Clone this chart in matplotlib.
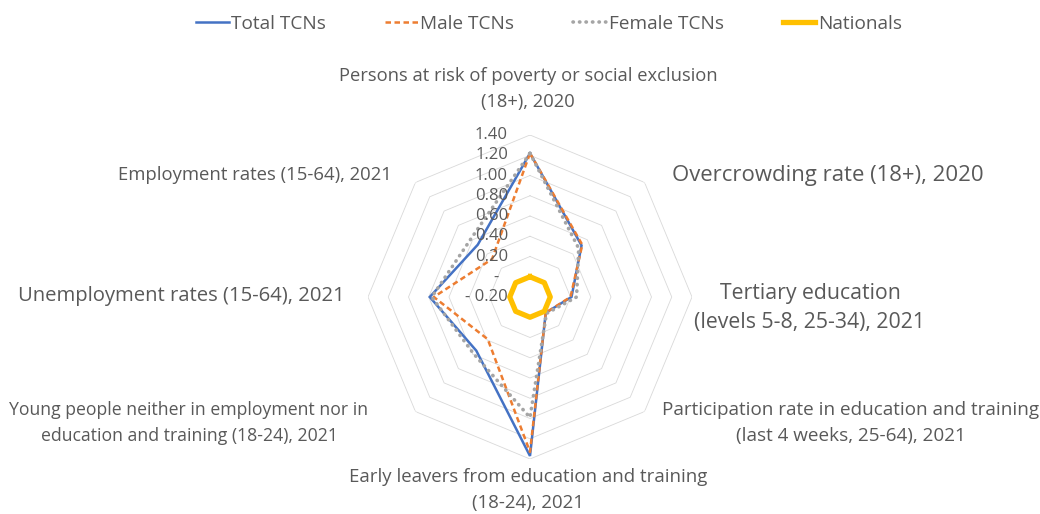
import numpy as np
import matplotlib.pyplot as plt
import matplotlib.transforms as mtransforms
from matplotlib.lines import Line2D

# Datos (en el orden del gráfico, en sentido horario desde arriba)
categorias = [
    "Persons at risk of poverty or social exclusion\n(18+), 2020",
    "Overcrowding rate (18+), 2020",
    "Tertiary education\n(levels 5-8, 25-34), 2021",
    "Participation rate in education and training\n(last 4 weeks, 25-64), 2021",
    "Early leavers from education and training\n(18-24), 2021",
    "Young people neither in employment nor in\neducation and training (18-24), 2021",
    "Unemployment rates (15-64), 2021",
    "Employment rates (15-64), 2021",
]
total_tcns = [1.22, 0.52, 0.21, 0.02, 1.37, 0.55, 0.79, 0.53]
male_tcns = [1.22, 0.53, 0.20, 0.02, 1.33, 0.39, 0.75, 0.33]
female_tcns = [1.22, 0.48, 0.26, 0.03, 0.99, 0.59, 0.77, 0.62]
nationals = [0, 0, 0, 0, 0, 0, 0, 0]

anillos = [0.0, 0.2, 0.4, 0.6, 0.8, 1.0, 1.2, 1.4]
etiquetas_r = ["- 0.20", "-  ", "0.20", "0.40", "0.60", "0.80", "1.00", "1.20", "1.40"]
valores_r = [-0.2] + anillos

plt.rcParams['font.family'] = ['Open Sans', 'DejaVu Sans']
gris_texto = '#595959'

fig = plt.figure(figsize=(10.4, 5.14), dpi=100)
W, H = 1040, 514
cx, cy, R = 530, 297, 162
ax = fig.add_axes([(cx - R) / W, (H - cy - R) / H, 2 * R / W, 2 * R / H], projection='polar')
ax.set_theta_offset(np.pi / 2)
ax.set_theta_direction(-1)
ax.set_ylim(-0.2, 1.4)
ax.grid(False)
ax.spines['polar'].set_visible(False)
ax.set_xticks([])
ax.set_yticks([])
ax.patch.set_alpha(0)

n = len(categorias)
ang = np.linspace(0, 2 * np.pi, n, endpoint=False)
ang_c = np.append(ang, ang[0])

def cerrar(v):
    return np.append(v, v[0])

# rejilla octogonal
for a in anillos:
    ax.plot(ang_c, [a] * (n + 1), color='#D9D9D9', lw=0.6, zorder=1)

# series
ax.plot(ang_c, cerrar(total_tcns), color='#4472C4', lw=1.8, zorder=3,
        solid_joinstyle='miter')
ax.plot(ang_c, cerrar(male_tcns), color='#ED7D31', lw=1.8, zorder=3,
        linestyle=(0, (2.2, 1.4)))
ax.plot(ang_c, cerrar(female_tcns), color='#A5A5A5', lw=2.6, zorder=3,
        linestyle=(0, (0.1, 1.7)), dash_capstyle='round')
ax.plot(ang_c, cerrar(nationals), color='#FFC000', lw=3.8, zorder=4)

# etiquetas del eje radial
trans = mtransforms.offset_copy(ax.transData, fig=fig, x=-22, y=0, units='dots')
for v, t in zip(valores_r, etiquetas_r):
    ax.text(0, v, t, transform=trans, ha='right', va='center',
            fontsize=12, color=gris_texto, zorder=5)

# etiquetas de categorías (posición en píxeles de la figura)
pos = [(528, 89, 'center', 13.2), (672, 175, 'left', 15.9), (810, 308, 'center', 15.3),
       (851, 423, 'center', 13.6), (528, 490, 'center', 13.4), (189, 423, 'center', 12.7),
       (181, 296, 'center', 14.6), (255, 175, 'center', 13.35)]
for (x, y, ha, fs), t in zip(pos, categorias):
    fig.text(x / W, 1 - y / H, t, ha=ha, va='center', multialignment='center',
             fontsize=fs, color=gris_texto, linespacing=1.52)

# leyenda
handles = [
    Line2D([], [], color='#4472C4', lw=1.8),
    Line2D([], [], color='#ED7D31', lw=1.8, linestyle=(0, (2.2, 1.4))),
    Line2D([], [], color='#A5A5A5', lw=2.6, linestyle=(0, (0.1, 1.7)), dash_capstyle='round'),
    Line2D([], [], color='#FFC000', lw=3.8),
]
leg = fig.legend(handles, ['Total TCNs', 'Male TCNs', 'Female TCNs', 'Nationals'],
                 loc='center', bbox_to_anchor=(549 / W, 1 - 24 / H), ncol=4,
                 frameon=False, fontsize=13.7, handlelength=1.7, handletextpad=0.15,
                 columnspacing=3.1)
for t in leg.get_texts():
    t.set_color(gris_texto)

fig.savefig('out.png', dpi=100)
